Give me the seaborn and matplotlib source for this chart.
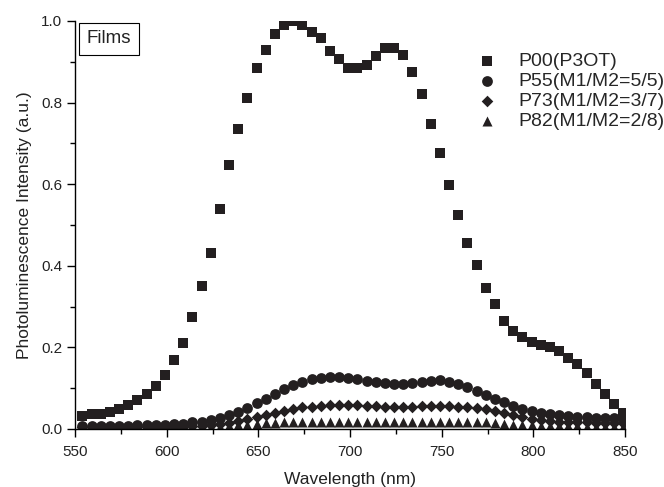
import numpy as np
import seaborn as sns
import matplotlib.pyplot as plt

# wavelength grid of the measured spectra (5 nm steps)
wavelength = np.arange(554, 850, 5)

p00 = [0.033, 0.036, 0.037, 0.042, 0.048, 0.058, 0.071, 0.086, 0.105, 0.132,
       0.169, 0.210, 0.275, 0.350, 0.432, 0.538, 0.647, 0.736, 0.812, 0.886,
       0.929, 0.968, 0.989, 1.000, 0.990, 0.974, 0.958, 0.926, 0.908, 0.886,
       0.884, 0.892, 0.915, 0.935, 0.935, 0.917, 0.874, 0.821, 0.748, 0.676,
       0.598, 0.525, 0.457, 0.402, 0.345, 0.306, 0.265, 0.240, 0.226, 0.214,
       0.206, 0.202, 0.192, 0.175, 0.159, 0.138, 0.110, 0.087, 0.061, 0.040]

p55 = [0.008, 0.008, 0.008, 0.008, 0.008, 0.008, 0.009, 0.010, 0.010, 0.011,
       0.012, 0.013, 0.016, 0.018, 0.023, 0.028, 0.035, 0.042, 0.051, 0.063,
       0.073, 0.085, 0.097, 0.108, 0.116, 0.122, 0.126, 0.128, 0.128, 0.126,
       0.122, 0.118, 0.116, 0.113, 0.111, 0.111, 0.113, 0.116, 0.118, 0.119,
       0.116, 0.111, 0.103, 0.093, 0.083, 0.074, 0.065, 0.057, 0.049, 0.044,
       0.038, 0.036, 0.034, 0.032, 0.030, 0.029, 0.028, 0.027, 0.026, 0.025]

p73 = [0.004, 0.004, 0.004, 0.004, 0.004, 0.004, 0.004, 0.005, 0.005, 0.005,
       0.006, 0.006, 0.007, 0.008, 0.010, 0.012, 0.015, 0.019, 0.024, 0.029,
       0.035, 0.040, 0.045, 0.049, 0.053, 0.055, 0.057, 0.058, 0.059, 0.058,
       0.058, 0.057, 0.056, 0.055, 0.054, 0.054, 0.055, 0.056, 0.056, 0.056,
       0.056, 0.055, 0.054, 0.052, 0.049, 0.045, 0.039, 0.034, 0.029, 0.025,
       0.022, 0.020, 0.018, 0.017, 0.016, 0.016, 0.015, 0.015, 0.014, 0.014]

p82 = [0.003, 0.003, 0.003, 0.003, 0.003, 0.003, 0.003, 0.003, 0.003, 0.003,
       0.003, 0.003, 0.003, 0.003, 0.004, 0.005, 0.007, 0.009, 0.011, 0.013,
       0.014, 0.015, 0.016, 0.016, 0.017, 0.017, 0.017, 0.017, 0.017, 0.017,
       0.017, 0.017, 0.017, 0.017, 0.017, 0.017, 0.017, 0.017, 0.017, 0.017,
       0.017, 0.016, 0.016, 0.016, 0.016, 0.015, 0.013, 0.011, 0.010, 0.009,
       0.008, 0.008, 0.007, 0.007, 0.007, 0.006, 0.006, 0.006, 0.006, 0.005]

labels = ["P00(P3OT)", "P55(M1/M2=5/5)", "P73(M1/M2=3/7)", "P82(M1/M2=2/8)"]
series = [p00, p55, p73, p82]
markers = ["s", "o", "D", "^"]
sizes = [46, 60, 35, 52]

sns.set_theme(style="ticks")
plt.rcParams['font.family'] = ['Liberation Sans', 'DejaVu Sans']

fig = plt.figure(figsize=(6.64, 4.87), dpi=100)
ax = fig.add_axes([75 / 664, 1 - 429 / 487, 550 / 664, 408 / 487])

ink = "#231f20"
for lab, vals, mk, sz in zip(labels, series, markers, sizes):
    sns.scatterplot(x=wavelength, y=vals, marker=mk, s=sz, color=ink,
                    linewidth=0, label=lab, ax=ax)

ax.set_xlim(550, 850)
ax.set_ylim(0, 1.0)
ax.set_xticks(np.arange(550, 851, 50))
ax.set_xticks(np.arange(575, 850, 50), minor=True)
ax.set_yticks(np.arange(0, 1.01, 0.2))
ax.set_yticks(np.arange(0.1, 1.0, 0.2), minor=True)
ax.yaxis.set_major_formatter(plt.FormatStrFormatter('%.1f'))
ax.tick_params(which='major', direction='out', length=5.5, width=1,
               labelsize=11, color='black', labelcolor='#222222')
ax.tick_params(axis='x', which='major', pad=6)
ax.tick_params(axis='y', which='major', pad=3.5)
ax.tick_params(which='minor', direction='out', length=3.5, width=1, color='black')
sns.despine(ax=ax)
for sp in ax.spines.values():
    sp.set_linewidth(1)
    sp.set_color('black')

ax.set_xlabel("Wavelength (nm)", fontsize=12.5, labelpad=9.5, color='#222222')
ax.set_ylabel("Photoluminescence Intensity (a.u.)", fontsize=12.5,
              labelpad=7, color='#222222')

ax.text(0.0615, 0.956, "Films", transform=ax.transAxes, ha='center',
        va='center', fontsize=13.5, color='#222222',
        bbox=dict(boxstyle='square,pad=0.42', fc='white', ec='black', lw=0.8))

ax.legend(loc='upper left', bbox_to_anchor=(0.714, 0.922), frameon=False,
          fontsize=14, handlelength=2, handletextpad=0.6, labelspacing=0.12,
          borderpad=0, borderaxespad=0, markerscale=1.0)

fig.savefig("out.png", dpi=100)
